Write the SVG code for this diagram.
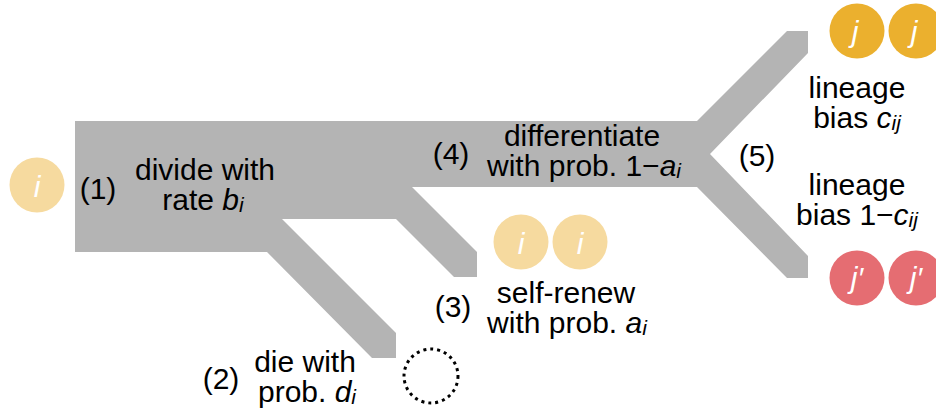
<svg xmlns="http://www.w3.org/2000/svg" width="936" height="415" viewBox="0 0 936 415">
<style>
text{font-family:"Liberation Sans",Arial,Helvetica,sans-serif;fill:#000}
.lbl{font-size:30px;text-anchor:middle}
.it{font-style:italic}
.sub{font-size:21px;font-style:italic}
.cell{font-size:30px;font-style:italic;fill:#fff;text-anchor:middle}
.pale{fill:#f6da9f}
.gold{fill:#ebb02e}
.red{fill:#e56d72}
</style>
<g id="connectors">
<polygon fill="#b4b4b4" points="75,121 697,121 787,31 808,31 808,53 710,154 808,256 808,278 787,278 697,187 412,187 477,252 477,277 454,277 396,219 282,219 396,333 396,358 372,358 267,252 75,252"/>
</g>
<g id="cell-i">
<circle class="pale" cx="37" cy="185" r="27.5"/>
<text class="cell" x="37" y="197">i</text>
</g>
<g id="step1">
<text class="lbl" x="98" y="199">(1)</text>
<text class="lbl"><tspan x="205" y="180">divide with</tspan><tspan x="203" y="210">rate <tspan class="it">b</tspan><tspan class="sub" dy="2">i</tspan></tspan></text>
</g>
<g id="step4">
<text class="lbl" x="451" y="164">(4)</text>
<text class="lbl"><tspan x="582" y="146">differentiate</tspan><tspan x="584" y="176">with prob. 1−<tspan class="it">a</tspan><tspan class="sub" dy="2">i</tspan></tspan></text>
</g>
<g id="step5">
<text class="lbl" x="757" y="166">(5)</text>
</g>
<g id="cells-jj">
<circle class="gold" cx="857" cy="31" r="27.5"/>
<circle class="gold" cx="916" cy="31" r="27.5"/>
<text class="cell" x="855" y="42">j</text>
<text class="cell" x="914" y="42">j</text>
</g>
<g id="label-cij">
<text class="lbl"><tspan x="857" y="98">lineage</tspan><tspan x="857" y="128">bias <tspan class="it">c</tspan><tspan class="sub" dy="2">ij</tspan></tspan></text>
</g>
<g id="label-1cij">
<text class="lbl"><tspan x="857" y="195">lineage</tspan><tspan x="857" y="225">bias 1−<tspan class="it">c</tspan><tspan class="sub" dy="2">ij</tspan></tspan></text>
</g>
<g id="cells-jprime">
<circle class="red" cx="857" cy="278" r="27.5"/>
<circle class="red" cx="916" cy="278" r="27.5"/>
<text class="cell" x="857" y="288">j′</text>
<text class="cell" x="916" y="288">j′</text>
</g>
<g id="cells-ii">
<circle class="pale" cx="521" cy="242" r="27.5"/>
<circle class="pale" cx="580" cy="242" r="27.5"/>
<text class="cell" x="521" y="254">i</text>
<text class="cell" x="580" y="254">i</text>
</g>
<g id="step3">
<text class="lbl" x="453" y="317">(3)</text>
<text class="lbl"><tspan x="566" y="303">self-renew</tspan><tspan x="567" y="333">with prob. <tspan class="it">a</tspan><tspan class="sub" dy="2">i</tspan></tspan></text>
</g>
<g id="step2">
<text class="lbl" x="221" y="389">(2)</text>
<text class="lbl"><tspan x="305" y="372">die with</tspan><tspan x="307" y="402">prob. <tspan class="it">d</tspan><tspan class="sub" dy="2">i</tspan></tspan></text>
</g>
<g id="dead-cell">
<circle cx="431" cy="376" r="27" fill="none" stroke="#000" stroke-width="3" stroke-dasharray="3 4"/>
</g>
</svg>
